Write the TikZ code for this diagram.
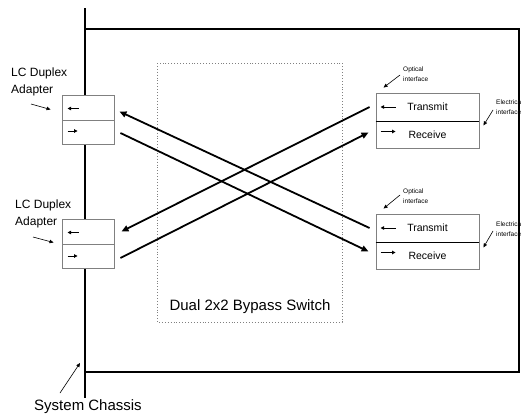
\documentclass[tikz,border=0pt]{standalone}
\usepackage{fontspec}
\setmainfont{Liberation Sans}
\usetikzlibrary{arrows.meta}

\tikzset{
    port/.style={draw=gray, line width=0.9pt, fill=white, minimum width=52pt, inner sep=0pt},
    unit/.style={draw=gray, line width=0.9pt, fill=white, minimum width=103pt, inner sep=0pt, font=\fontsize{10.5}{12}\selectfont},
    bus/.style={line width=1.8pt, -{Triangle[length=7pt, width=6pt]}},
    tick/.style={line width=0.9pt, -{Triangle[length=3.5pt, width=3.5pt]}},
    pointer/.style={line width=0.6pt, -{Triangle[length=4pt, width=3.5pt]}},
    tiny/.style={inner sep=0pt, align=left, anchor=west, font=\fontsize{6.5}{10}\selectfont},
}

\begin{document}
\begin{tikzpicture}[x=1pt, y=-1pt]
        \useasboundingbox (0,0) rectangle (521,415);
        % chassis and card outline
        \draw[line width=1.5pt] (85,29) rectangle (519,372);
        \draw[line width=2.4pt] (85,8) -- (85,398);
        \draw[gray, dotted, line width=0.9pt] (157,63) rectangle (342,322);
        \node[font=\fontsize{15}{18}\selectfont] (switch) at (250,307) {Dual 2x2 Bypass Switch};

        % LC duplex adapters on the chassis
        \node[port, minimum height=25pt] (lcAin) at (88,107.5) {};
        \node[port, minimum height=24pt] (lcAout) at (88,132) {};
        \node[port, minimum height=25pt] (lcBin) at (88,231.5) {};
        \node[port, minimum height=24pt] (lcBout) at (88,256) {};
        \draw[tick] ([xshift=17pt, yshift=-1pt]lcAin.west) -- ([xshift=6pt, yshift=-1pt]lcAin.west);
        \draw[tick] ([xshift=6pt, yshift=1pt]lcAout.west) -- ([xshift=16pt, yshift=1pt]lcAout.west);
        \draw[tick] ([xshift=17pt, yshift=-1pt]lcBin.west) -- ([xshift=6pt, yshift=-1pt]lcBin.west);
        \draw[tick] ([xshift=6pt]lcBout.west) -- ([xshift=16pt]lcBout.west);

        % transceivers
        \node[unit, minimum height=28pt] (txA) at (427.5,107) {Transmit};
        \node[unit, minimum height=27pt] (rxA) at (427.5,134.5) {Receive};
        \node[unit, minimum height=28pt] (txB) at (427.5,228) {Transmit};
        \node[unit, minimum height=27pt] (rxB) at (427.5,255.5) {Receive};
        \draw[black, line width=0.9pt] (txA.south west) -- (txA.south east);
        \draw[black, line width=0.9pt] (txB.south west) -- (txB.south east);
        \draw[tick] ([xshift=20pt]txA.west) -- ([xshift=5pt]txA.west);
        \draw[tick] ([xshift=5pt, yshift=3pt]rxA.west) -- ([xshift=20pt, yshift=3pt]rxA.west);
        \draw[tick] ([xshift=20pt]txB.west) -- ([xshift=5pt]txB.west);
        \draw[tick] ([xshift=5pt, yshift=3pt]rxB.west) -- ([xshift=20pt, yshift=3pt]rxB.west);

        % the four crossed fibres
        \draw[bus] ([xshift=-6pt]txA.west) -- ([xshift=7pt]lcBin.east);
        \draw[bus] ([xshift=6pt, yshift=-2pt]lcBout.east) -- ([xshift=-7pt, yshift=2pt]rxA.west);
        \draw[bus] ([xshift=-6pt]txB.west) -- ([xshift=5pt, yshift=-4pt]lcAin.east);
        \draw[bus] ([xshift=6pt, yshift=-1pt]lcAout.east) -- ([xshift=-7pt, yshift=4pt]rxB.west);

        % labels
        \node[inner sep=0pt, align=left, anchor=west, font=\fontsize{12}{17}\selectfont] (lblA) at (11,81.5) {LC Duplex\\Adapter};
        \node[inner sep=0pt, align=left, anchor=west, font=\fontsize{12}{17}\selectfont] (lblB) at (15,213.5) {LC Duplex\\Adapter};
        \coordinate (pA) at (31,104);
        \coordinate (pB) at (33,237);
        \draw[pointer] (pA) -- ([xshift=-11pt, yshift=-2pt]lcAin.east -| lcAin.west);
        \draw[pointer] (pB) -- ([xshift=-8pt, yshift=-11pt]lcBin.west);

        \node[tiny] (optA) at (403,74) {Optical\\interface};
        \node[tiny] (optB) at (403,196) {Optical\\interface};
        \node[tiny] (elA) at (496,107.5) {Electrical\\interface};
        \node[tiny] (elB) at (496,229) {Electrical\\interface};
        \coordinate (oA) at (400,75);
        \coordinate (oB) at (400,195);
        \coordinate (eA) at (493,110);
        \coordinate (eB) at (493,231);
        \draw[pointer] (oA) -- ([xshift=8pt, yshift=5pt]txA.north west);
        \draw[pointer] (oB) -- ([xshift=8pt, yshift=5pt]txB.north west);
        \draw[pointer] (eA) -- ([xshift=4pt, yshift=-4pt]txA.south east);
        \draw[pointer] (eB) -- ([xshift=4pt, yshift=-5pt]txB.south east);

        \node[font=\fontsize{15}{18}\selectfont] (chassis) at (88,407) {System Chassis};
        \coordinate (cP) at (60,393);
        \draw[pointer] (cP) -- (80,363);
\end{tikzpicture}
\end{document}
